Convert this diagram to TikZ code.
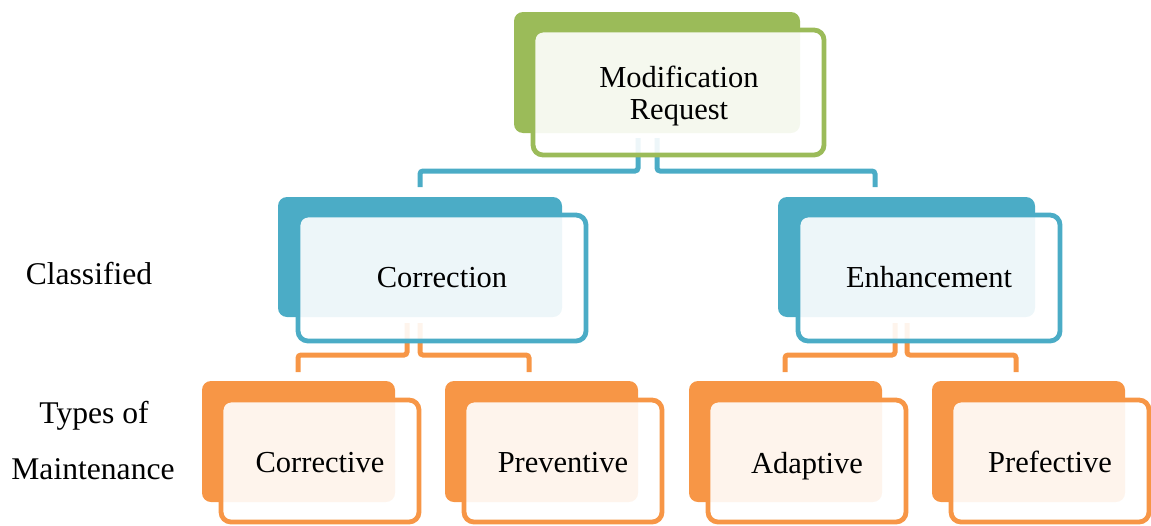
\documentclass[tikz,border=0pt]{standalone}
\usepackage{fontspec}
\setmainfont{Liberation Serif}
\definecolor{cg}{HTML}{9BBB59}
\definecolor{cb}{HTML}{4BACC6}
\definecolor{co}{HTML}{F79646}
\tikzset{
  backbox/.style={fill=#1, draw=none, rounded corners=9pt, inner sep=0pt, outer sep=0pt, anchor=north west},
  frontbox/.style={draw=#1, line width=4.8pt, fill=white, fill opacity=0.9, draw opacity=1, rounded corners=10pt, inner sep=0pt, outer sep=0pt, anchor=north west},
  conn/.style={draw=#1, line width=5pt, rounded corners=3pt},
  lbl/.style={font=\fontsize{30.5}{32}\selectfont, align=center, inner sep=0pt, anchor=base, text=black},
  sidelbl/.style={lbl, font=\fontsize{31.6}{33}\selectfont},
}
\begin{document}
\begin{tikzpicture}[x=1pt,y=-1pt]
\useasboundingbox (0,0) rectangle (1151,525);
% back boxes
\node[backbox=cg, minimum width=286pt, minimum height=121pt] (mrB) at (514,12) {};
\node[backbox=cb, minimum width=284pt, minimum height=120pt] (corB) at (278,197) {};
\node[backbox=cb, minimum width=257pt, minimum height=120pt] (enhB) at (778,197) {};
\node[backbox=co, minimum width=193pt, minimum height=121pt] (crvB) at (202,381) {};
\node[backbox=co, minimum width=193pt, minimum height=121pt] (prvB) at (445,381) {};
\node[backbox=co, minimum width=193pt, minimum height=121pt] (adpB) at (689,381) {};
\node[backbox=co, minimum width=193pt, minimum height=121pt] (pfcB) at (932,381) {};
% connector points
\coordinate (h1) at (0,171);
\coordinate (h2) at (0,355);
\coordinate (mrL) at (638,138);
\coordinate (mrR) at (657,138);
\coordinate (corT) at (420,187);
\coordinate (enhT) at (875,187);
\coordinate (corL) at (407,323);
\coordinate (corR) at (420,323);
\coordinate (enhL) at (895,323);
\coordinate (enhR) at (907,323);
\coordinate (crvT) at (298,372);
\coordinate (prvT) at (529,372);
\coordinate (adpT) at (785,372);
\coordinate (pfcT) at (1016,372);
% connectors
\draw[conn=cb] (mrL) |- (corT |- h1) -- (corT);
\draw[conn=cb] (mrR) |- (enhT |- h1) -- (enhT);
\draw[conn=co] (corL) |- (crvT |- h2) -- (crvT);
\draw[conn=co] (corR) |- (prvT |- h2) -- (prvT);
\draw[conn=co] (enhL) |- (adpT |- h2) -- (adpT);
\draw[conn=co] (enhR) |- (pfcT |- h2) -- (pfcT);
% front boxes
\node[frontbox=cg, minimum width=291pt, minimum height=125pt] (mrF) at (533,30) {};
\node[frontbox=cb, minimum width=288pt, minimum height=126pt] (corF) at (298,215) {};
\node[frontbox=cb, minimum width=262pt, minimum height=126pt] (enhF) at (798,215) {};
\node[frontbox=co, minimum width=198pt, minimum height=122pt] (crvF) at (221,400) {};
\node[frontbox=co, minimum width=198pt, minimum height=122pt] (prvF) at (464,400) {};
\node[frontbox=co, minimum width=198pt, minimum height=122pt] (adpF) at (708,400) {};
\node[frontbox=co, minimum width=198pt, minimum height=122pt] (pfcF) at (951,400) {};
% texts
\node[lbl] (mrT1) at (679,87) {Modification};
\node[lbl] (mrT2) at (679,119) {Request};
\node[lbl] (corX) at (442,287) {Correction};
\node[lbl] (enhX) at (929,287) {Enhancement};
\node[lbl] (crvX) at (320,472) {Corrective};
\node[lbl] (prvX) at (563,472) {Preventive};
\node[lbl] (adpX) at (807,473) {Adaptive};
\node[lbl] (pfcX) at (1050,472) {Prefective};
\node[sidelbl] (cls) at (89,284) {Classified};
\node[sidelbl] (tys) at (94,423) {Types of};
\node[sidelbl] (mnt) at (93,479) {Maintenance};
\end{tikzpicture}
\end{document}
